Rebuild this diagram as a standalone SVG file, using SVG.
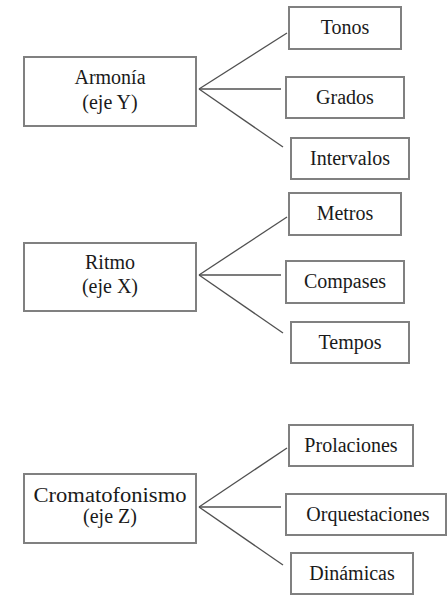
<svg xmlns="http://www.w3.org/2000/svg" width="447" height="595" viewBox="0 0 447 595">
<style>
.box{fill:#fff;stroke:#808080;stroke-width:2}
.t{font-family:'Liberation Serif','Times New Roman','DejaVu Serif',serif;font-size:20px;fill:#1a1a1a;text-anchor:middle}
.c line{stroke:#505050;stroke-width:1.3}
</style>
<rect width="447" height="595" fill="#fff"/>
<g class="c" id="connectors">
<line x1="199" y1="89" x2="287" y2="33"/>
<line x1="199" y1="89" x2="281" y2="89"/>
<line x1="199" y1="89" x2="283" y2="147"/>
<line x1="199" y1="275" x2="287" y2="217"/>
<line x1="199" y1="275" x2="281" y2="275"/>
<line x1="199" y1="275" x2="283" y2="333"/>
<line x1="199" y1="507" x2="287" y2="448"/>
<line x1="199" y1="507" x2="281" y2="507"/>
<line x1="199" y1="507" x2="283" y2="565"/>
</g>
<g id="armonia"><rect class="box" x="24" y="57" width="172" height="69"/><text class="t" x="110" y="84">Armonía</text><text class="t" x="110" y="109">(eje Y)</text></g>
<g id="tonos"><rect class="box" x="289" y="7" width="112" height="42"/><text class="t" x="345" y="34">Tonos</text></g>
<g id="grados"><rect class="box" x="286" y="77" width="118" height="41"/><text class="t" x="345" y="104">Grados</text></g>
<g id="intervalos"><rect class="box" x="291" y="138" width="118" height="41"/><text class="t" x="350" y="165">Intervalos</text></g>
<g id="ritmo"><rect class="box" x="24" y="243" width="172" height="68"/><text class="t" x="110" y="269">Ritmo</text><text class="t" x="110" y="293">(eje X)</text></g>
<g id="metros"><rect class="box" x="289" y="193" width="112" height="42"/><text class="t" x="345" y="220">Metros</text></g>
<g id="compases"><rect class="box" x="286" y="261" width="118" height="42"/><text class="t" x="345" y="288">Compases</text></g>
<g id="tempos"><rect class="box" x="291" y="322" width="118" height="41"/><text class="t" x="350" y="349">Tempos</text></g>
<g id="cromatofonismo"><rect class="box" x="24" y="474" width="172" height="69"/><text class="t" x="110" y="502" textLength="153" lengthAdjust="spacingAndGlyphs">Cromatofonismo</text><text class="t" x="110" y="523">(eje Z)</text></g>
<g id="prolaciones"><rect class="box" x="289" y="425" width="124" height="41"/><text class="t" x="351" y="452">Prolaciones</text></g>
<g id="orquestaciones"><rect class="box" x="286" y="494" width="160" height="41"/><text class="t" x="368" y="521">Orquestaciones</text></g>
<g id="dinamicas"><rect class="box" x="291" y="553" width="122" height="41"/><text class="t" x="352" y="580">Dinámicas</text></g>
</svg>
